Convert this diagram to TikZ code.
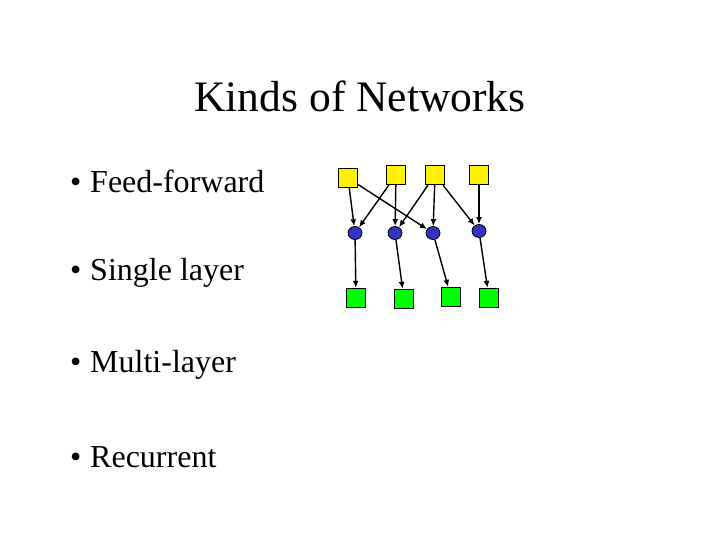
\documentclass[tikz,border=0pt]{standalone}
\usepackage{fontspec}
\setmainfont{Liberation Serif}
\usetikzlibrary{positioning,shapes.geometric,arrows.meta}
\tikzset{inp/.style={draw, line width=1.3pt, fill=yellow, rectangle, minimum size=19pt, inner sep=0pt},
  hid/.style={draw, line width=0.8pt, fill=blue!70!black!80, ellipse, minimum width=14pt, minimum height=13pt, inner sep=0pt},
  outp/.style={draw, line width=1.3pt, fill=green, rectangle, minimum size=19pt, inner sep=0pt},
  item/.style={anchor=west, font=\fontsize{32}{34}\selectfont}}
\begin{document}
\begin{tikzpicture}[x=1pt, y=-1pt, >={Latex[length=7pt,width=6pt]}, line width=1.4pt]
    \useasboundingbox (0,0) rectangle (720,540);
    \node [font=\fontsize{43.5}{46}\selectfont] (title) at (360,96) {Kinds of Networks};
    \node [item] (ff) at (66,181) {\textbullet\hspace{9pt}Feed-forward};
    \node [item] (sl) at (66,273) {\textbullet\hspace{9pt}Single layer};
    \node [item] (ml) at (66,365) {\textbullet\hspace{9pt}Multi-layer};
    \node [item] (rc) at (66,457) {\textbullet\hspace{9pt}Recurrent};

    \node [inp] (i1) at (348,178) {};
    \node [inp] (i2) at (396,175) {};
    \node [inp] (i3) at (435,175) {};
    \node [inp] (i4) at (479,175) {};
    \node [hid] (h1) at (355,233) {};
    \node [hid] (h2) at (395,233) {};
    \node [hid] (h3) at (433,233) {};
    \node [hid] (h4) at (479,231) {};
    \node [outp] (o1) at (356,298) {};
    \node [outp] (o2) at (404,299) {};
    \node [outp] (o3) at (451,297) {};
    \node [outp] (o4) at (489,298) {};

    \draw [->] (i1) -- (h1);
    \draw [->] (i1) -- (h3);
    \draw [->] (i2) -- (h1);
    \draw [->] (i2) -- (h2);
    \draw [->] (i3) -- (h2);
    \draw [->] (i3) -- (h3);
    \draw [->] (i3) -- (h4);
    \draw [->] (i4) -- (h4);
    \foreach \n in {1,...,4}
        \draw [->] (h\n) -- (o\n);
\end{tikzpicture}
\end{document}
